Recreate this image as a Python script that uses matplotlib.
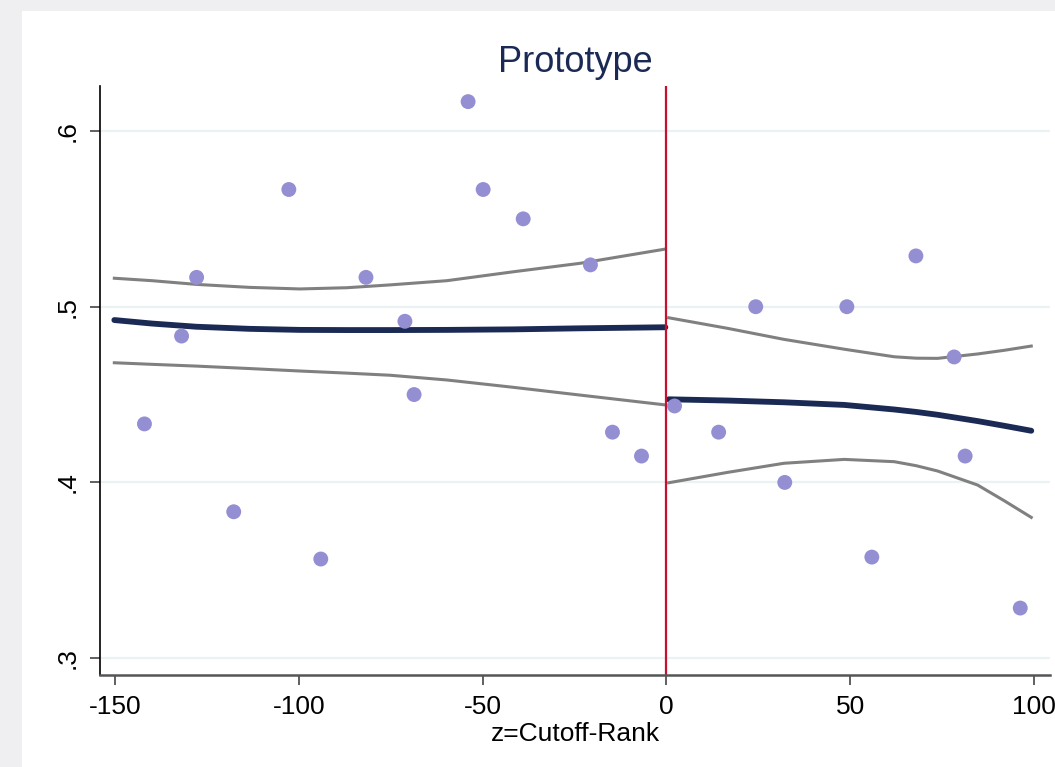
import matplotlib.pyplot as plt
from matplotlib.patches import Rectangle

plt.rcParams['font.family'] = ['Liberation Sans', 'DejaVu Sans']
plt.rcParams['axes.unicode_minus'] = False

# Observaciones (z = Cutoff - Rank)
z_obs = [-142.1, -132.0, -127.9, -117.8, -102.8, -94.1, -81.8, -71.2, -68.7,
         -54.0, -49.9, -39.0, -20.7, -14.7, -6.8,
         2.2, 14.2, 24.3, 32.2, 49.1, 55.9, 67.9, 78.3, 81.3, 96.3]
y_obs = [0.4333, 0.4833, 0.5167, 0.3833, 0.5667, 0.3564, 0.5167, 0.4917, 0.4500,
         0.6167, 0.5667, 0.5500, 0.5238, 0.4286, 0.4150,
         0.4435, 0.4286, 0.5000, 0.4000, 0.5000, 0.3575, 0.5289, 0.4714, 0.4150, 0.3285]

# Ajuste local a la izquierda del corte, con banda de confianza
z_izq = [-150.3, -140.0, -128.0, -113.5, -99.8, -87.0, -75.3, -59.8, -41.6, -23.5, -0.3]
fit_izq = [0.4924, 0.4904, 0.4886, 0.4874, 0.4868, 0.4867, 0.4867, 0.4868, 0.4871, 0.4877, 0.4883]
sup_izq = [0.5162, 0.5148, 0.5127, 0.5110, 0.5101, 0.5108, 0.5124, 0.5148, 0.5199, 0.5247, 0.5328]
inf_izq = [0.4681, 0.4672, 0.4662, 0.4648, 0.4634, 0.4622, 0.4610, 0.4583, 0.4541, 0.4497, 0.4441]

# Ajuste local a la derecha del corte
z_der = [0.6, 16.6, 32.0, 48.4, 62.0, 68.0, 73.8, 84.7, 92.0, 99.3]
fit_der = [0.4473, 0.4466, 0.4456, 0.4441, 0.4415, 0.4401, 0.4385, 0.4349, 0.4322, 0.4294]
sup_der = [0.4937, 0.4877, 0.4814, 0.4758, 0.4715, 0.4707, 0.4706, 0.4731, 0.4752, 0.4776]
inf_der = [0.3998, 0.4057, 0.4109, 0.4131, 0.4118, 0.4095, 0.4065, 0.3985, 0.3895, 0.3801]

xticks = [-150, -100, -50, 0, 50, 100]
yticks = [0.3, 0.4, 0.5, 0.6]
ytick_labels = ['.3', '.4', '.5', '.6']

W, H = 1055, 767
fig = plt.figure(figsize=(W / 100, H / 100), dpi=100, facecolor='#efeff2')
# panel blanco detrás del gráfico
fig.patches.append(Rectangle((22 / W, 0), 1, 1 - 11 / H, transform=fig.transFigure,
                             facecolor='white', edgecolor='none', zorder=-1))

ax = fig.add_axes([100 / W, 1 - 675 / H, (1050 - 100) / W, (675 - 86) / H])
ax.set_facecolor('white')

for yt in yticks:
    ax.axhline(yt, color='#eaf2f3', lw=1.6, zorder=1)

ax.plot(z_izq, sup_izq, color='#808080', lw=2.2, zorder=3)
ax.plot(z_izq, inf_izq, color='#808080', lw=2.2, zorder=3)
ax.plot(z_der, sup_der, color='#808080', lw=2.2, zorder=3)
ax.plot(z_der, inf_der, color='#808080', lw=2.2, zorder=3)
ax.plot(z_izq, fit_izq, color='#1a2a54', lw=4.2, solid_capstyle='round', zorder=4)
ax.plot(z_der, fit_der, color='#1a2a54', lw=4.2, solid_capstyle='round', zorder=4)
ax.scatter(z_obs, y_obs, s=115, color='#948ed3', edgecolors='none', zorder=5)
ax.axvline(0, color='#c8102e', lw=1.6, zorder=6)

ax.set_xlim(-154.2, 104.4)
ax.set_ylim(0.2904, 0.6256)
ax.set_xticks(xticks)
ax.set_yticks(yticks)
ax.set_yticklabels(ytick_labels, rotation=90, va='center')

for side in ['top', 'right']:
    ax.spines[side].set_visible(False)
ax.spines['left'].set_color('black')
ax.spines['left'].set_linewidth(1.2)
ax.spines['bottom'].set_color('#555555')
ax.spines['bottom'].set_linewidth(1.8)
ax.spines['bottom'].set_zorder(7)

ax.tick_params(axis='both', labelsize=19, length=7.5, width=1.2, color='#444444', pad=7)

ax.set_title('Prototype', fontsize=26, color='#1a2a54', pad=10)
ax.set_xlabel('z=Cutoff-Rank', fontsize=19, labelpad=2)

fig.savefig('out.png', dpi=100, facecolor=fig.get_facecolor())
